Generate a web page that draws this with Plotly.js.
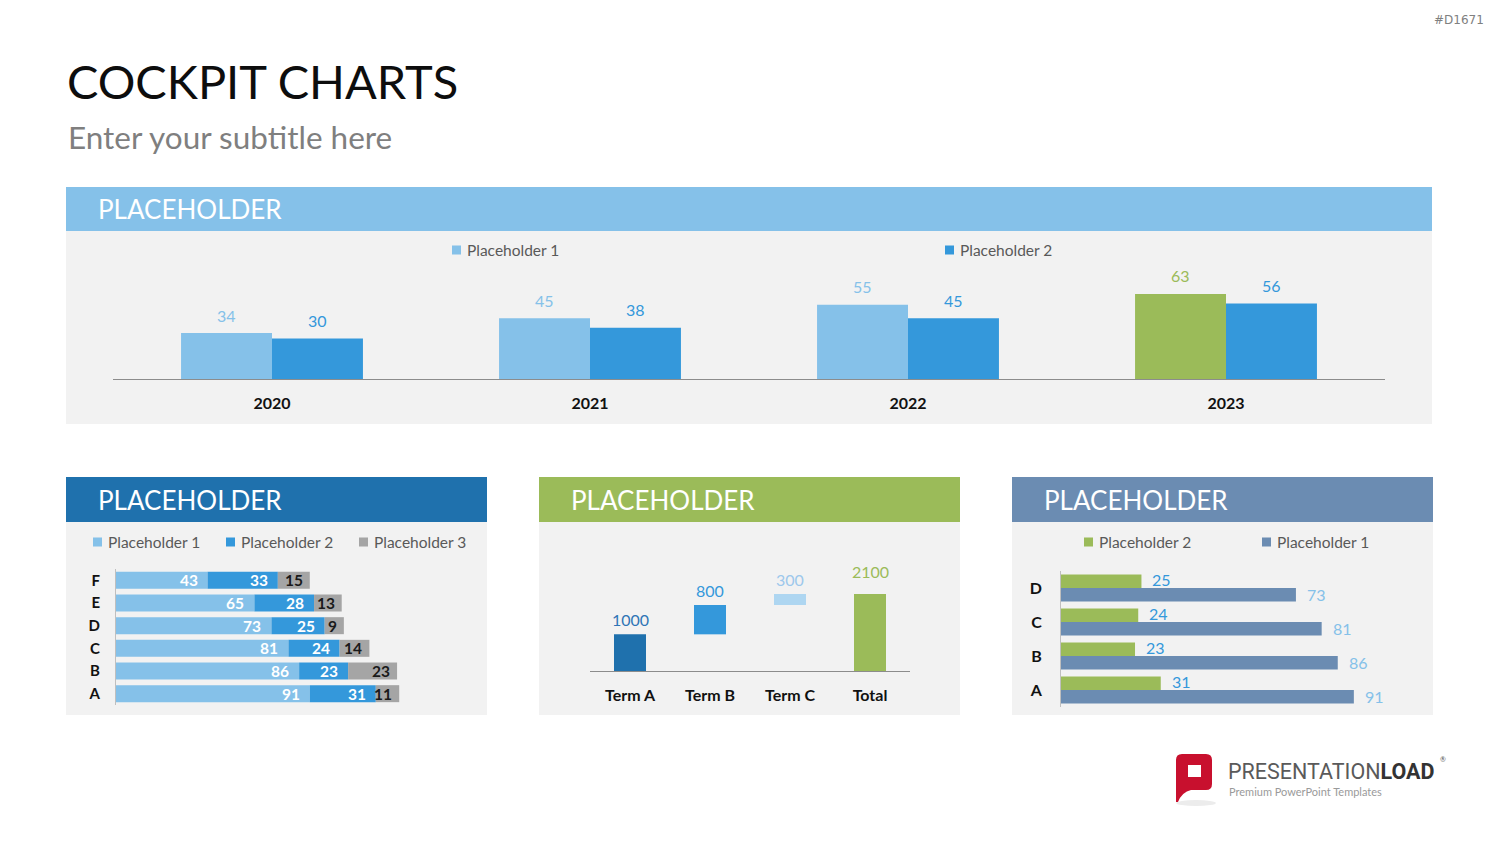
<!DOCTYPE html>
<html>
<head>
<meta charset="utf-8">
<script src="https://cdn.plot.ly/plotly-3.0.1.min.js"></script>
<style>
  html, body { margin: 0; padding: 0; background: #ffffff; }
  #dash { width: 1500px; height: 844px; }
</style>
</head>
<body>
<div id="dash"></div>
<script>
// ---------- data ----------
const years = ['2020', '2021', '2022', '2023'];
const yearSeries1 = [34, 45, 55, 63];
const yearSeries2 = [30, 38, 45, 56];

const stackCats = ['A', 'B', 'C', 'D', 'E', 'F'];
const stackSeries1 = [91, 86, 81, 73, 65, 43];
const stackSeries2 = [31, 23, 24, 25, 28, 33];
const stackSeries3 = [11, 23, 14, 9, 13, 15];

const terms = ['Term A', 'Term B', 'Term C', 'Total'];
const termValues = [1000, 800, 300, 2100];
const termMeasures = ['relative', 'relative', 'relative', 'total'];

const pairCats = ['A', 'B', 'C', 'D'];
const pairSeries2 = [31, 23, 24, 25];
const pairSeries1 = [91, 86, 81, 73];

const legendNames = ['Placeholder 1', 'Placeholder 2', 'Placeholder 3'];

// ---------- styling ----------
const W = 1500, H = 844;
const FONT = 'Lato, "Open Sans", sans-serif';
const C = {
  light: '#85C1E9', mid: '#3498DB', dark: '#1F71AD', green: '#9BBB59',
  grey: '#A5A5A5', slate: '#6B8CB2', pale: '#AED6F1', panel: '#F2F2F2',
  text: '#595959', axis: '#8C8C8C', axisLight: '#BFBFBF'
};
const px = x => x / W;
const py = y => 1 - y / H;
const dx = (a, b) => [a / W, b / W];
const dy = (top, bottom) => [1 - bottom / H, 1 - top / H];

const shapes = [];
const ann = [];
const traces = [];

function rect(x0, y0, x1, y1, color) {
  shapes.push({ type: 'rect', xref: 'paper', yref: 'paper', layer: 'below',
    x0: px(x0), x1: px(x1), y0: py(y1), y1: py(y0),
    fillcolor: color, line: { width: 0 } });
}
function text(x, y, t, font, extra) {
  ann.push(Object.assign({ xref: 'paper', yref: 'paper', x: px(x), y: py(y), text: t,
    showarrow: false, xanchor: 'left', yanchor: 'middle',
    font: Object.assign({ family: FONT, size: 15, color: C.text }, font) }, extra || {}));
}
function legendItem(x, y, color, label) {
  rect(x, y - 4.5, x + 9, y + 4.5, color);
  text(x + 13, y, label, { size: 15.5, color: C.text });
}
function panel(x0, x1, top, headBottom, bottom, headColor) {
  rect(x0, headBottom, x1, bottom, C.panel);
  rect(x0, top, x1, headBottom, headColor);
  text(x0 + 30, (top + headBottom) / 2, 'PLACEHOLDER', { size: 26, color: '#ffffff' });
}
// path written in page pixels, converted to paper coordinates
function pagePath(d) {
  return d.replace(/(-?\d+\.?\d*),(-?\d+\.?\d*)/g, (m, a, b) => px(+a) + ',' + py(+b));
}

// ---------- page heading ----------
text(65, 81, 'COCKPIT CHARTS', { size: 47, color: '#0D0D0D' });
text(66, 137, 'Enter your subtitle here', { size: 31.5, color: '#7F7F7F' });
text(1486, 20, '#D1671', { family: '"DejaVu Sans", sans-serif', size: 12, color: '#808080' }, { xanchor: 'right' });

// ---------- panels ----------
panel(66, 1432, 187, 231, 424, C.light);
panel(66, 487, 477, 522, 715, C.dark);
panel(539, 960, 477, 522, 715, C.green);
panel(1012, 1433, 477, 522, 715, C.slate);

legendItem(452, 250, C.light, legendNames[0]);
legendItem(945, 250, C.mid, legendNames[1]);

legendItem(93, 542, C.light, legendNames[0]);
legendItem(226, 542, C.mid, legendNames[1]);
legendItem(359, 542, C.grey, legendNames[2]);

legendItem(1084, 542, C.green, legendNames[1]);
legendItem(1262, 542, C.slate, legendNames[0]);

// ---------- yearly grouped columns ----------
const BAR_W = 0.286;
const topColors1 = years.map((y, i) => i === years.length - 1 ? C.green : C.light);
traces.push({ type: 'bar', x: years, y: yearSeries1, width: BAR_W, offset: -BAR_W,
  marker: { color: topColors1 }, xaxis: 'x', yaxis: 'y', hoverinfo: 'skip' });
traces.push({ type: 'bar', x: years, y: yearSeries2, width: BAR_W, offset: 0,
  marker: { color: C.mid }, xaxis: 'x', yaxis: 'y', hoverinfo: 'skip' });
years.forEach((yr, i) => {
  ann.push({ xref: 'x', yref: 'y', x: i - BAR_W / 2, y: yearSeries1[i], yshift: 18,
    text: String(yearSeries1[i]), showarrow: false, yanchor: 'middle',
    font: { family: FONT, size: 16, color: topColors1[i] } });
  ann.push({ xref: 'x', yref: 'y', x: i + BAR_W / 2, y: yearSeries2[i], yshift: 18,
    text: String(yearSeries2[i]), showarrow: false, yanchor: 'middle',
    font: { family: FONT, size: 16, color: C.mid } });
});

// ---------- stacked bars ----------
const stackSets = [stackSeries1, stackSeries2, stackSeries3];
const stackColors = [C.light, C.mid, C.grey];
const stackLabelColors = ['#ffffff', '#ffffff', '#1A1A1A'];
let running = stackCats.map(() => 0);
stackSets.forEach((vals, j) => {
  const base = running.slice();
  traces.push({ type: 'bar', orientation: 'h', y: stackCats, x: vals, base: base, width: 0.75,
    marker: { color: stackColors[j] }, xaxis: 'x2', yaxis: 'y2', hoverinfo: 'skip' });
  vals.forEach((v, i) => {
    ann.push({ xref: 'x2', yref: 'y2', x: base[i] + v, y: i, xanchor: 'right', xshift: j === 2 ? -5 : -8,
      yanchor: 'middle', text: '<b>' + v + '</b>', showarrow: false,
      font: { family: FONT, size: 15.5, color: stackLabelColors[j] } });
  });
  running = running.map((r, i) => r + vals[i]);
});

// ---------- bridge chart ----------
const termColors = [C.dark, C.mid, C.pale, C.green];
const termLabelColors = ['#2E75B6', C.mid, '#9DC8EC', C.green];
let acc = 0;
const termBase = termValues.map((v, i) => {
  if (termMeasures[i] === 'total') return 0;
  const b = acc; acc += v; return b;
});
traces.push({ type: 'bar', x: terms, y: termValues, base: termBase, width: 0.4,
  marker: { color: termColors }, xaxis: 'x3', yaxis: 'y3', hoverinfo: 'skip' });
terms.forEach((t, i) => {
  ann.push({ xref: 'x3', yref: 'y3', x: i, y: termBase[i] + termValues[i],
    yshift: termMeasures[i] === 'total' ? 23 : 15,
    text: String(termValues[i]), showarrow: false, yanchor: 'middle',
    font: { family: FONT, size: 16, color: termLabelColors[i] } });
});

// ---------- paired horizontal bars ----------
traces.push({ type: 'bar', orientation: 'h', y: pairCats, x: pairSeries2, width: 0.4, offset: 0,
  marker: { color: C.green }, xaxis: 'x4', yaxis: 'y4', hoverinfo: 'skip' });
traces.push({ type: 'bar', orientation: 'h', y: pairCats, x: pairSeries1, width: 0.4, offset: -0.4,
  marker: { color: C.slate }, xaxis: 'x4', yaxis: 'y4', hoverinfo: 'skip' });
pairCats.forEach((c, i) => {
  ann.push({ xref: 'x4', yref: 'y4', x: pairSeries2[i], y: i + 0.2, xanchor: 'left', xshift: 9, yshift: 2,
    yanchor: 'middle', text: String(pairSeries2[i]), showarrow: false,
    font: { family: FONT, size: 16, color: C.mid } });
  ann.push({ xref: 'x4', yref: 'y4', x: pairSeries1[i], y: i - 0.2, xanchor: 'left', xshift: 9,
    yanchor: 'middle', text: String(pairSeries1[i]), showarrow: false,
    font: { family: FONT, size: 16, color: C.light } });
});

// ---------- brand mark ----------
shapes.push({ type: 'circle', xref: 'paper', yref: 'paper', layer: 'below',
  x0: px(1176), x1: px(1216), y0: py(806), y1: py(800), fillcolor: '#ECECEC', line: { width: 0 } });
shapes.push({ type: 'path', xref: 'paper', yref: 'paper', layer: 'below',
  path: pagePath('M1182,754 L1206,754 Q1212,754 1212,760 L1212,784 Q1212,790 1206,790 L1191,790 ' +
    'Q1182,792 1178,802 L1176,802 L1176,760 Q1176,754 1182,754 Z ' +
    'M1188,765 L1188,777 L1201,777 L1201,765 Z'),
  fillcolor: '#C8102E', line: { width: 0 } });
text(1226, 771, '<span style="color:#5A5A5A">PRESENTATION</span><b>LOAD</b>',
  { family: 'Roboto, Lato, sans-serif', size: 21.5, color: '#333333' });
text(1438, 759, '®', { size: 7, color: '#555555' });
text(1227, 791, 'Premium PowerPoint Templates', { size: 11, color: '#9A9A9A' });

// ---------- layout ----------
const catTick = { family: FONT, size: 16, color: '#111111', weight: 'bold' };
const layout = {
  width: W, height: H,
  margin: { l: 0, r: 0, t: 0, b: 0 },
  paper_bgcolor: '#ffffff', plot_bgcolor: 'rgba(0,0,0,0)',
  showlegend: false, barmode: 'overlay',
  font: { family: FONT },
  xaxis: { domain: dx(113, 1385), anchor: 'y', type: 'category', range: [-0.5, 3.5],
    showline: true, linecolor: C.axis, linewidth: 1, showgrid: false, zeroline: false,
    ticks: '', tickfont: catTick, ticklabelstandoff: 10, fixedrange: true },
  yaxis: { domain: dy(244, 379), anchor: 'x', range: [0, 100], visible: false, fixedrange: true },

  xaxis2: { domain: dx(116, 478), anchor: 'y2', range: [0, 170], visible: false, fixedrange: true },
  yaxis2: { domain: dy(569, 705), anchor: 'x2', type: 'category', range: [-0.5, 5.5],
    showline: true, linecolor: C.axisLight, linewidth: 1, showgrid: false, zeroline: false,
    ticks: '', tickfont: Object.assign({}, catTick, { size: 15 }), ticklabelstandoff: 12, fixedrange: true },

  xaxis3: { domain: dx(590, 910), anchor: 'y3', type: 'category', range: [-0.5, 3.5],
    showline: true, linecolor: C.axis, linewidth: 1, showgrid: false, zeroline: false,
    ticks: '', tickfont: catTick, ticklabelstandoff: 10, fixedrange: true },
  yaxis3: { domain: dy(561, 671), anchor: 'x3', range: [0, 3000], visible: false, fixedrange: true },

  xaxis4: { domain: dx(1061, 1415), anchor: 'y4', range: [0, 110], visible: false, fixedrange: true },
  yaxis4: { domain: dy(571, 707), anchor: 'x4', type: 'category', range: [-0.5, 3.5],
    showline: true, linecolor: C.axisLight, linewidth: 1, showgrid: false, zeroline: false,
    ticks: '', tickfont: catTick, ticklabelstandoff: 15, fixedrange: true },

  shapes: shapes,
  annotations: ann
};

Plotly.newPlot('dash', traces, layout, { displayModeBar: false, staticPlot: true });
</script>
</body>
</html>
